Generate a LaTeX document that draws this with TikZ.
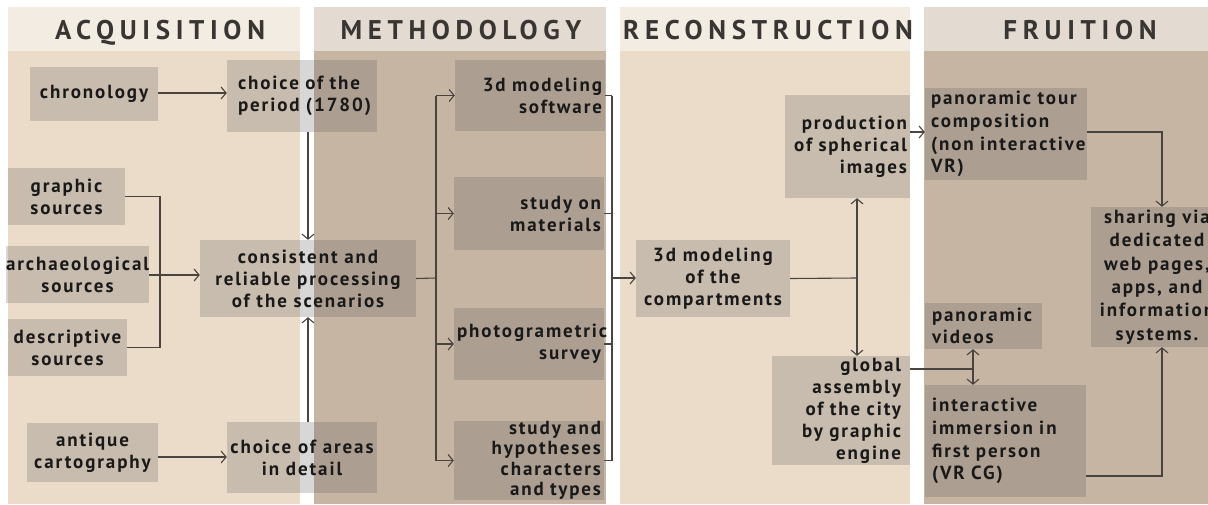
\documentclass[tikz,border=0pt]{standalone}
\usepackage{fontspec}
\setmainfont{PT Sans}
\newfontfamily\labelfont{PT Sans}[LetterSpace=10]
\newfontfamily\titlefont{PT Sans}[LetterSpace=21]
\usetikzlibrary{arrows.meta}
\definecolor{paleband}{HTML}{F3ECE3}
\definecolor{greyband}{HTML}{E3DAD1}
\definecolor{lightbody}{HTML}{EADCC8}
\definecolor{darkbody}{HTML}{C6B5A3}
\definecolor{boxshade}{HTML}{606060}
\definecolor{linkcol}{HTML}{4A4440}
\definecolor{titlecol}{HTML}{383532}
\begin{document}
\begin{tikzpicture}[x=1pt,y=-1pt,
    box/.style={fill=boxshade,fill opacity=0.25,text opacity=1,inner sep=0pt,
        text=black!90,font=\labelfont\bfseries\fontsize{19pt}{22pt}\selectfont},
    title/.style={anchor=base,text=titlecol,font=\titlefont\bfseries\fontsize{27pt}{30pt}\selectfont},
    link/.style={draw=linkcol,line width=1.1pt},
    >={Straight Barb[length=5pt,width=12pt]}]

    \useasboundingbox (0,0) rectangle (1208,504);

    % columns
    \fill[paleband] (8,7) rectangle (300,51);
    \fill[lightbody] (8,51) rectangle (300,504);
    \fill[greyband] (314,7) rectangle (606,51);
    \fill[darkbody] (314,51) rectangle (606,504);
    \fill[paleband] (620,7) rectangle (910,51);
    \fill[lightbody] (620,51) rectangle (910,504);
    \fill[greyband] (924,7) rectangle (1208,51);
    \fill[darkbody] (924,51) rectangle (1208,504);

    \node[title] (acq) at (160,39) {ACQUISITION};
    \node[title] (meth) at (461,39) {METHODOLOGY};
    \node[title] (recon) at (768,39) {RECONSTRUCTION};
    \node[title] (fruit) at (1080,39) {FRUITION};

    % acquisition
    \node[box,minimum width=128pt,minimum height=54pt,align=center] (chrono) at (94,94) {chronology};
    \node[box,minimum width=150pt,minimum height=72pt,inner xsep=11pt,text width=128pt,align=left] (period) at (302,96) {choice of the\\period~(1780)};
    \node[box,minimum width=117pt,minimum height=57pt,align=center] (graphic) at (66.5,196.5) {graphic\\sources};
    \node[box,minimum width=135pt,minimum height=57pt,align=center] (archaeo) at (77.5,274.5) {archaeological\\sources};
    \node[box,minimum width=119pt,minimum height=57pt,align=center] (descr) at (67.5,347.5) {descriptive\\sources};
    \node[box,minimum width=216pt,minimum height=77pt,align=center] (consist) at (308,278.5) {consistent and\\reliable processing\\of the scenarios};
    \node[box,minimum width=131pt,minimum height=59pt,align=center] (antique) at (92.5,452.5) {antique\\cartography};
    \node[box,minimum width=150pt,minimum height=71pt,align=center] (areas) at (302,457.5) {choice of areas\\in detail};

    % methodology
    \node[box,minimum width=150pt,minimum height=71pt,inner xsep=3pt,text width=144pt,align=right] (soft) at (530,95.5) {3d modeling\hspace*{7pt}\\software};
    \node[box,minimum width=150pt,minimum height=73pt,inner xsep=3pt,text width=144pt,align=right] (mater) at (529,213.5) {study on\hspace*{7pt}\\materials};
    \node[box,minimum width=150pt,minimum height=72pt,inner xsep=3pt,text width=144pt,align=right] (photo) at (529,344) {photogrametric\\survey};
    \node[box,minimum width=150pt,minimum height=79pt,inner xsep=3pt,text width=144pt,align=right,
        font=\labelfont\bfseries\fontsize{19pt}{20.5pt}\selectfont] (hypo) at (529,460.5) {study and\hspace*{7pt}\\hypotheses\hspace*{7pt}\\characters\\and types};

    % reconstruction
    \node[box,minimum width=154pt,minimum height=77pt,align=center] (compart) at (713,278.5) {3d modeling\\of the\\compartments};
    \node[box,minimum width=125pt,minimum height=103pt,inner xsep=3pt,text width=119pt,align=right] (spher) at (847.5,146.5) {production\hspace*{7pt}\\of spherical\\images};
    \node[box,minimum width=138pt,minimum height=109pt,inner xsep=9pt,text width=120pt,align=right] (glob) at (841,410.5) {global\\assembly\\of the city\\by graphic\\engine};

    % fruition
    \node[box,minimum width=162pt,minimum height=92pt,inner xsep=6pt,text width=150pt,align=left,
        font=\labelfont\bfseries\fontsize{19pt}{22.7pt}\selectfont] (tour) at (1006,134) {panoramic tour\\composition\\(non interactive\\VR)};
    \node[box,minimum width=132pt,minimum height=140pt,align=center,
        font=\labelfont\bfseries\fontsize{19pt}{23.4pt}\selectfont] (share) at (1157,277) {sharing via\\dedicated\\web pages,\\apps, and\\information\\systems.};
    \node[box,minimum width=117pt,minimum height=46pt,inner xsep=7pt,text width=103pt,align=left] (pvideo) at (983.5,326) {panoramic\\videos};
    \node[box,minimum width=161pt,minimum height=112pt,inner xsep=7pt,text width=147pt,align=left,
        font=\labelfont\bfseries\fontsize{19pt}{22.7pt}\selectfont] (immer) at (1005.5,441) {interactive\\immersion in\\first person\\(VR CG)};

    \coordinate (srcjoin) at (160,275);
    \coordinate (fanout) at (436,278);
    \coordinate (fanin) at (612,278);
    \coordinate (reconjoin) at (857,278);
    \coordinate (videojoin) at (973,369);
    \coordinate (sharejoin) at (1162,476);

    \draw[link,->] (chrono.east |- 0,93) -- (period.west |- 0,93);
    \draw[link,->] (antique.east |- 0,457) -- (areas.west |- 0,457);
    \draw[link] (graphic.east) -| (srcjoin) |- (descr.east);
    \draw[link,->] (archaeo.east |- srcjoin) -- (consist.west |- srcjoin);
    \draw[link,->] (consist.north |- period.south) -- (consist.north);
    \draw[link,->] (consist.north |- areas.north) -- (consist.south);

    \draw[link] (consist.east) -- (fanout);
    \draw[link] (fanout |- soft.west) -- (fanout |- hypo.west);
    \foreach \m in {soft,mater,photo,hypo}
        \draw[link,->] (fanout |- \m.west) -- (\m.west);
    \draw[link] (fanin |- soft.east) -- (fanin |- hypo.east);
    \foreach \m in {soft,mater,photo,hypo}
        \draw[link] (\m.east) -- (fanin |- \m.east);
    \draw[link,->] (fanin) -- (compart.west |- fanin);

    \draw[link] (compart.east) -- (reconjoin);
    \draw[link,<->] (reconjoin |- spher.south) -- (reconjoin |- glob.north);
    \draw[link,->] (spher.east |- 0,132) -- (tour.west |- 0,132);
    \draw[link] (glob.east |- videojoin) -- (videojoin);
    \draw[link,<->] (videojoin |- pvideo.south) -- (videojoin |- immer.north);

    \draw[link,->] (tour.east |- 0,132) -| (sharejoin |- share.north);
    \draw[link,->] (immer.east |- sharejoin) -- (sharejoin) -- (sharejoin |- share.south);
\end{tikzpicture}
\end{document}
